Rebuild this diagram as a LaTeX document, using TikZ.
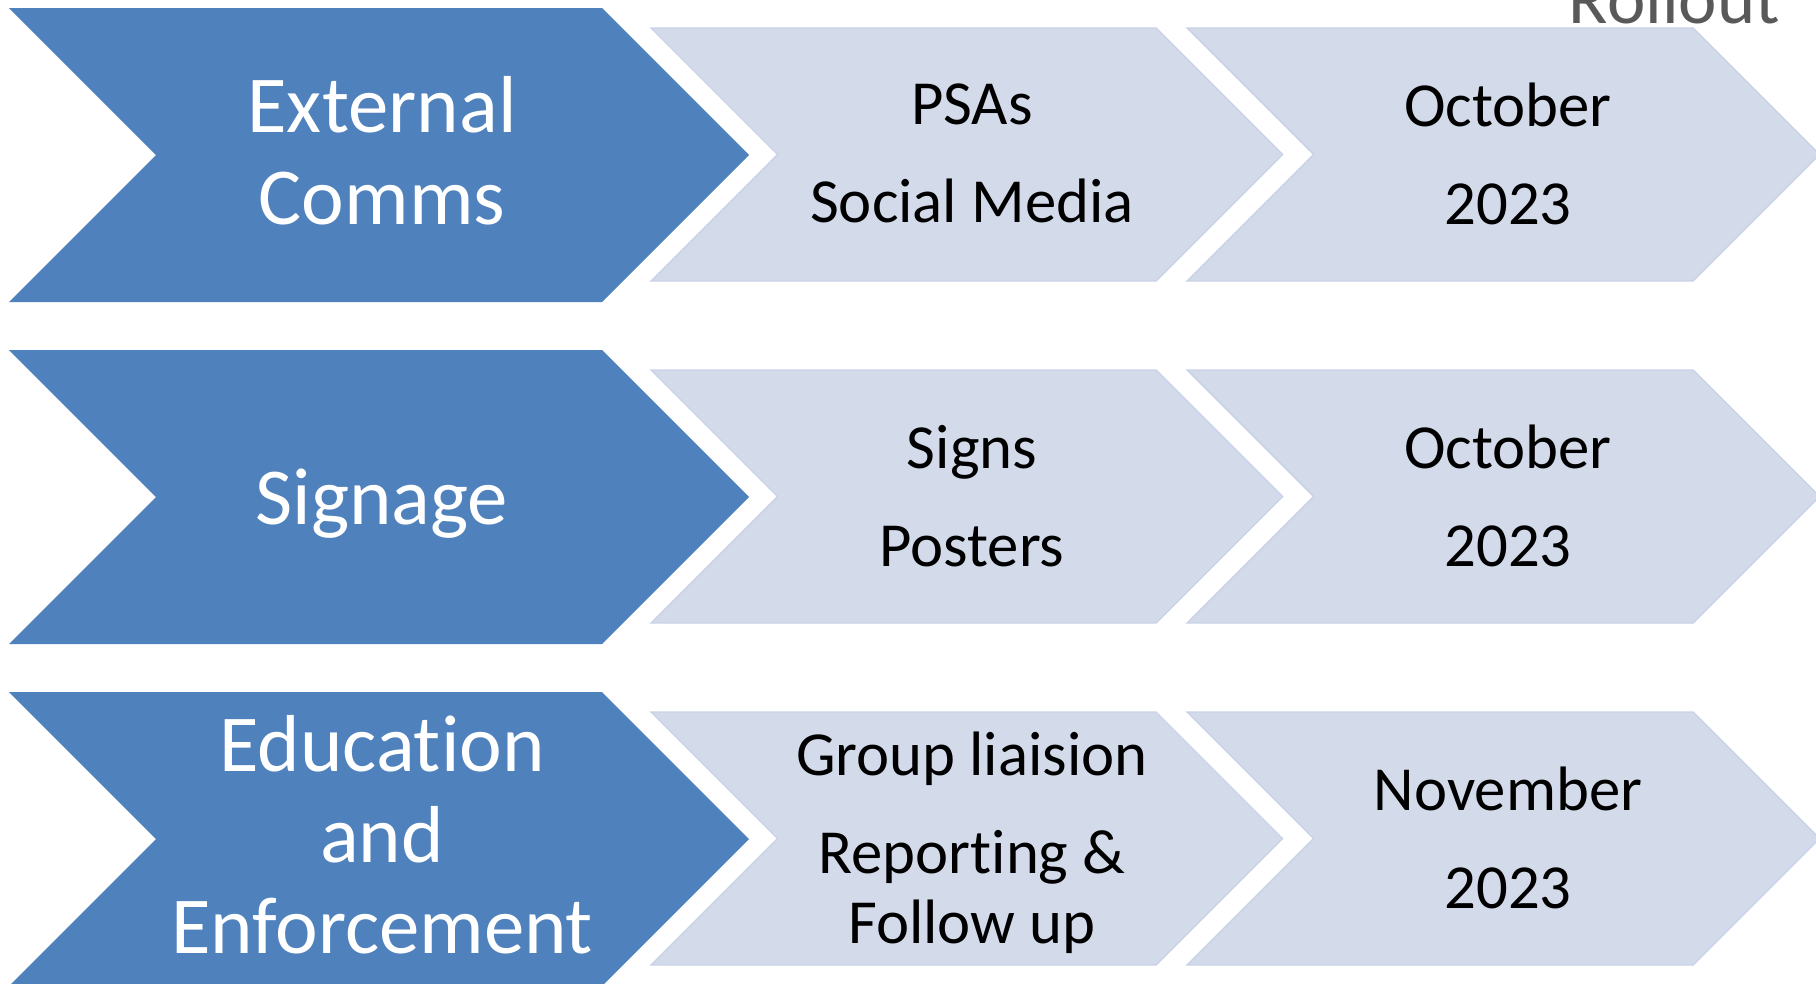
\documentclass[tikz,border=0pt]{standalone}
\usepackage{fontspec}
\setmainfont{Carlito}[RawFeature={-liga;-clig;-dlig;-calt}]
\usetikzlibrary{positioning}

\definecolor{headblue}{HTML}{4F81BD}
\definecolor{steplight}{HTML}{D3DAEA}
\definecolor{stepedge}{HTML}{C9D2E6}
\definecolor{rollgray}{HTML}{595959}

% chevron: left x, top y, width up to the shoulder, height, style
\newcommand{\drawchevron}[5]{%
  \path[#5] (#1,#2) -- ++(#3,0) -- ++({#4/2},{#4/2}) -- ++({-#4/2},{#4/2})
    -- ++(-#3,0) -- ++({#4/2},{-#4/2}) -- cycle;}

\begin{document}
\begin{tikzpicture}[x=0.02cm,y=-0.02cm,
  headarrow/.style={fill=headblue},
  steparrow/.style={fill=steplight,draw=stepedge,line width=0.8pt},
  headtext/.style={text=white,align=center,inner sep=0pt,font=\fontsize{46}{52}\selectfont,
    execute at begin node=\strut,execute at end node=\strut},
  steptext/.style={text=black,align=center,inner sep=0pt,font=\fontsize{35.7}{39.7}\selectfont,
    execute at begin node=\strut,execute at end node=\strut}]

\useasboundingbox (0,0) rectangle (1816,984);
\clip (0,0) rectangle (1816,984);

\node[anchor=base east,text=rollgray,inner sep=0pt,font=\fontsize{41.4}{48}\selectfont]
  (title) at (1780,23) {Rollout};

\foreach \i/\rowtop/\head/\what/\when in {%
  1/8/{External\\Comms}/{PSAs\\[16pt]Social Media}/{October\\[16pt]2023},
  2/350/{Signage}/{Signs\\[16pt]Posters}/{October\\[16pt]2023},
  3/692/{Education\\and\\Enforcement}/{Group liaision\\[16pt]Reporting \&\\Follow up}/{November\\[16pt]2023}}
{
  \drawchevron{9}{\rowtop}{593}{294}{headarrow}
  \drawchevron{651}{\rowtop+20}{505}{253}{steparrow}
  \drawchevron{1187}{\rowtop+20}{506}{253}{steparrow}
  \node[headtext] (head\i) at (382,\rowtop+156) {\head};
  \node[steptext] (what\i) at (972,\rowtop+156) {\what};
  \node[steptext] (when\i) at (1508,\rowtop+156) {\when};
}

\end{tikzpicture}
\end{document}
